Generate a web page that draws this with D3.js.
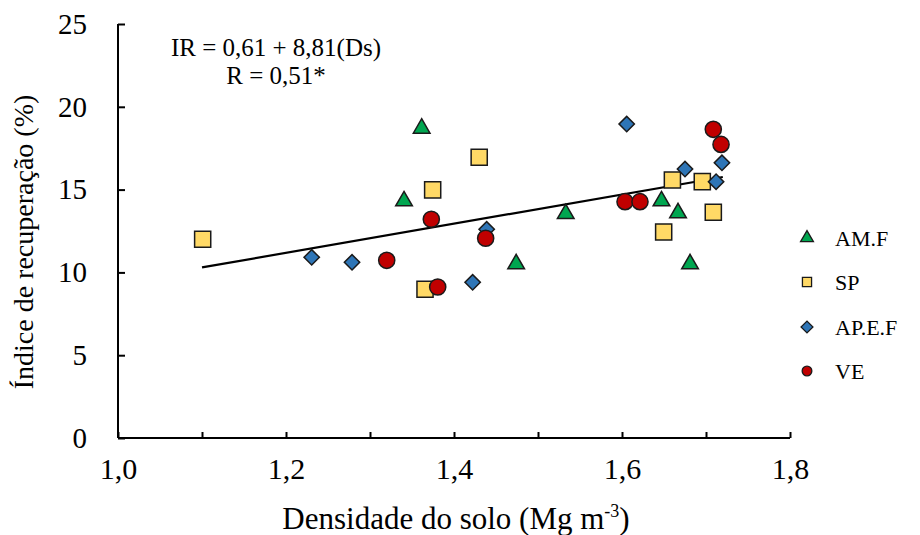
<!DOCTYPE html>
<html><head><meta charset="utf-8">
<script src="https://cdn.jsdelivr.net/npm/d3@7"></script>
<style>body{margin:0;background:#fff}svg{display:block}svg text{font-family:"Liberation Serif","Tinos","DejaVu Serif",serif !important;fill:#000}</style>
</head><body><svg id="c" width="920" height="535"></svg>
<script>
const xTicks = [1.0,1.1,1.2,1.3,1.4,1.5,1.6,1.7,1.8];
const yTicks = [0,5,10,15,20,25];
const seriesNames = ["AM.F","SP","AP.E.F","VE"];
const amfX = [1.3615,1.3405,1.533,1.474,1.647,1.6667,1.681];
const amfY = [18.76,14.37,13.6,10.57,14.37,13.65,10.57];
const spX = [1.1008,1.3746,1.430,1.3655,1.660,1.6956,1.7087,1.6496];
const spY = [12.0,14.98,16.95,8.98,15.58,15.48,13.63,12.44];
const apefX = [1.2306,1.2786,1.4222,1.4389,1.6056,1.675,1.719,1.712];
const apefY = [10.91,10.61,9.40,12.6,18.96,16.24,16.62,15.48];
const veX = [1.373,1.3199,1.3806,1.4377,1.6036,1.6214,1.7087,1.7179];
const veY = [13.21,10.73,9.12,12.06,14.27,14.27,18.64,17.73];
const fitX = [1.10,1.72];
const fitA = 0.61, fitB = 8.81;
const equation = ["IR = 0,61 + 8,81(Ds)","R = 0,51*"];

const svg = d3.select("#c");
const x = d3.scaleLinear().domain([1.0,1.8]).range([118,790]);
const y = d3.scaleLinear().domain([0,25]).range([438,24]);

const xAxis = svg.append("g").attr("transform","translate(0,438)")
  .call(d3.axisBottom(x).tickValues(xTicks).tickSize(-6).tickFormat(d=> Math.round(d*10)%2===0 ? d3.format(".1f")(d).replace(".",",") : ""));
xAxis.select(".domain").attr("d","M118,0H790").attr("stroke","#000").attr("stroke-width",2);
xAxis.selectAll(".tick line").attr("stroke","#000").attr("stroke-width",2);
xAxis.selectAll(".tick text").attr("y",20).attr("dy","0.71em").attr("font-size",30).attr("fill","#000");

const yAxis = svg.append("g").attr("transform","translate(118,0)")
  .call(d3.axisLeft(y).tickValues(yTicks).tickSize(-7).tickFormat(d3.format("d")));
yAxis.select(".domain").attr("d","M0,24V438").attr("stroke","#000").attr("stroke-width",2);
yAxis.selectAll(".tick line").attr("stroke","#000").attr("stroke-width",2);
yAxis.selectAll(".tick text").attr("x",-31).attr("font-size",29).attr("fill","#000");

svg.append("text").attr("x",456).attr("y",529).attr("text-anchor","middle").attr("font-size",31)
  .html('Densidade do solo (Mg m<tspan dy="-12" font-size="18">-3</tspan><tspan dy="12">)</tspan>');
svg.append("text").attr("transform","translate(33,242) rotate(-90)").attr("text-anchor","middle").attr("font-size",28)
  .text("Índice de recuperação (%)");

svg.append("text").attr("x",276).attr("y",56).attr("text-anchor","middle").attr("font-size",25).text(equation[0]);
svg.append("text").attr("x",276).attr("y",84).attr("text-anchor","middle").attr("font-size",25).text(equation[1]);

svg.append("path").attr("d", d3.line().x(d=>x(d)).y(d=>y(fitA+fitB*d))(fitX))
  .attr("stroke","#000").attr("stroke-width",2.2).attr("fill","none");

const styles = {
  "AM.F":{sym:d3.symbolTriangle, size:120, fill:"#00A650", xs:amfX, ys:amfY, dy:1, rot:0},
  "SP":{sym:d3.symbolSquare, size:260, fill:"#FFD966", xs:spX, ys:spY, dy:0, rot:0},
  "AP.E.F":{sym:d3.symbolSquare, size:118, fill:"#2E75B6", xs:apefX, ys:apefY, dy:0, rot:45},
  "VE":{sym:d3.symbolCircle, size:205, fill:"#C00000", xs:veX, ys:veY, dy:0, rot:0}
};
seriesNames.forEach(n=>{
  const s = styles[n];
  svg.append("g").selectAll("path").data(s.xs.map((v,i)=>[v,s.ys[i]])).join("path")
    .attr("transform",d=>`translate(${x(d[0])},${y(d[1])+s.dy}) rotate(${s.rot})`)
    .attr("d",d3.symbol(s.sym, s.size))
    .attr("fill",s.fill).attr("stroke","#1a1a1a").attr("stroke-width",1.5);
});

const legY = [238,282,327,371];
const legScale = [0.6,0.32,0.6,0.36];
seriesNames.forEach((n,i)=>{
  const s = styles[n];
  svg.append("path").attr("transform",`translate(807,${legY[i]}) rotate(${s.rot})`).attr("d",d3.symbol(s.sym, s.size*legScale[i]))
    .attr("fill",s.fill).attr("stroke","#1a1a1a").attr("stroke-width",1.3);
  svg.append("text").attr("x",835).attr("y",legY[i]).attr("dy","0.35em").attr("font-size",22).text(n);
});
</script></body></html>
